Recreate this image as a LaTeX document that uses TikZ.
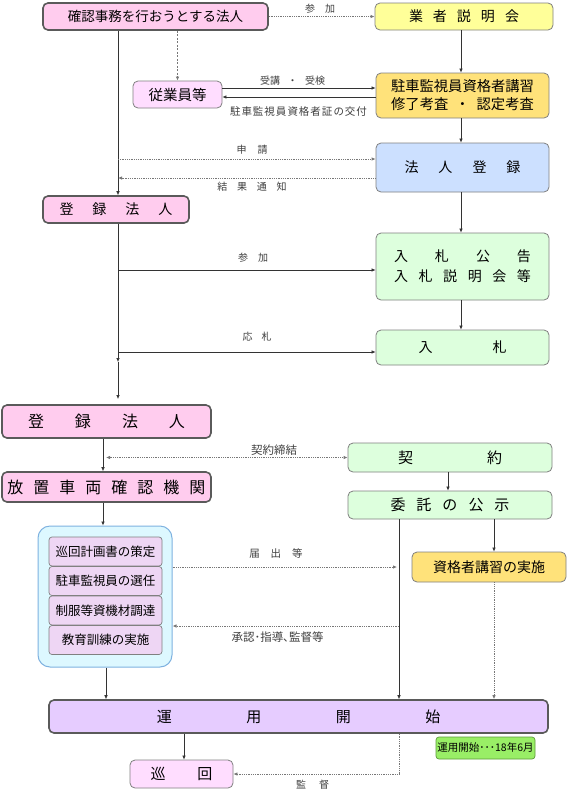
\documentclass[tikz,border=0pt]{standalone}
\usepackage{fontspec}
\setmainfont{Noto Sans CJK JP}
\usetikzlibrary{arrows.meta}
\definecolor{cpink}{HTML}{FFCCEE}
\definecolor{cdark}{HTML}{5A5A5A}
\definecolor{cyel}{HTML}{FFFF99}
\definecolor{cgold}{HTML}{FFE27A}
\definecolor{cblue}{HTML}{CCE0FF}
\definecolor{cgreen}{HTML}{DDFFDD}
\definecolor{clav}{HTML}{FFDDFF}
\definecolor{cinner}{HTML}{EED6F4}
\definecolor{ccyan}{HTML}{DDF8FF}
\definecolor{ccyanb}{HTML}{7FB2E0}
\definecolor{cpurp}{HTML}{E6CCFF}
\definecolor{clime}{HTML}{99EE66}
\definecolor{climeb}{HTML}{5C9A3A}
\definecolor{cline}{HTML}{333333}
\definecolor{cdot}{HTML}{777777}
\definecolor{clbl}{HTML}{404040}
\newcommand\fsz[2]{\fontsize{#1pt}{#2pt}\selectfont}
\ExplSyntaxOn
\NewDocumentCommand\spread{mm}{
  \bool_set_true:N \l_tmpa_bool
  \tl_map_inline:nn {#2}
    { \bool_if:NF \l_tmpa_bool { \hspace{#1pt} } \bool_set_false:N \l_tmpa_bool ##1 }
}
\ExplSyntaxOff
\tikzset{
  box/.style={rounded corners=5pt, align=center, inner sep=0pt, text=black},
  pinkbox/.style={box, fill=cpink, draw=cdark, line width=1.6pt},
  purpbox/.style={box, fill=cpurp, draw=cdark, line width=1.6pt},
  yelbox/.style={box, fill=cyel, draw=gray, line width=0.8pt},
  goldbox/.style={box, fill=cgold, draw=gray, line width=0.8pt},
  bluebox/.style={box, fill=cblue, draw=gray, line width=0.8pt},
  greenbox/.style={box, fill=cgreen, draw=gray, line width=0.8pt},
  lavbox/.style={box, fill=clav, draw=gray, line width=0.8pt},
  innerbox/.style={box, rounded corners=3pt, fill=cinner, draw=gray, line width=0.7pt},
  contbox/.style={rounded corners=12pt, fill=ccyan, draw=ccyanb, line width=1pt, inner sep=0pt},
  limebox/.style={box, rounded corners=3pt, fill=clime, draw=climeb, line width=0.7pt},
  lbl/.style={inner sep=0pt, text=clbl},
  sline/.style={draw=cline, line width=0.6pt},
  dline/.style={draw=cdot, line width=0.8pt, densely dotted},
  dashline/.style={draw=cdot, line width=0.8pt, dash pattern=on 2pt off 1.5pt},
  arr/.style={-{Latex[length=4pt,width=3.5pt]}},
  darr/.style={{Latex[length=4pt,width=3.5pt]}-{Latex[length=4pt,width=3.5pt]}},
}
\begin{document}
\begin{tikzpicture}[x=1pt,y=-1pt]
\useasboundingbox (0,0) rectangle (567,793);
\fill[white] (0,0) rectangle (567,793);
% reference coordinates
\coordinate (mx) at (118,0);
\coordinate (rx) at (461,0);
\coordinate (cx) at (103,0);
\coordinate (kx) at (448,0);
\coordinate (vx) at (399,0);
\coordinate (sx) at (494,0);
\coordinate (bx) at (106,0);
\coordinate (jx) at (184,0);
\coordinate (y88) at (0,88);
\coordinate (y97) at (0,97);
\coordinate (y159) at (0,159);
\coordinate (y178) at (0,178);
\coordinate (y270) at (0,270);
\coordinate (y352) at (0,352);
\coordinate (y567) at (0,567);
\coordinate (y626) at (0,626);
\coordinate (m1) at (118,362);
\coordinate (m2) at (118,399);

% nodes
\node[pinkbox, minimum width=225pt, minimum height=27pt, font=\fsz{13.5}{16}] (n1) at (155.5,16.5) {確認事務を行おうとする法人};
\node[yelbox, minimum width=178pt, minimum height=27pt, font=\fsz{14}{16}] (n2) at (464,16.5) {\spread{10}{業者説明会}};
\node[lavbox, minimum width=89pt, minimum height=27pt, font=\fsz{14.5}{16}] (n3) at (177.5,94.5) {従業員等};
\node[goldbox, minimum width=173pt, minimum height=45pt, font=\fsz{14.3}{18}] (n4) at (462.5,95.5) {駐車監視員資格者講習\\修了考査\hspace{7pt}・\hspace{7pt}認定考査};
\node[bluebox, minimum width=173pt, minimum height=49pt, font=\fsz{14}{16}] (n5) at (462.5,167.5) {\spread{20}{法人登録}};
\node[pinkbox, minimum width=146pt, minimum height=27pt, font=\fsz{14}{16}] (n6) at (116,209.5) {\spread{19}{登録法人}};
\node[greenbox, minimum width=173pt, minimum height=67pt, font=\fsz{14}{20}] (n7) at (462.5,266.5) {\spread{27}{入札公告}\\\spread{10.6}{入札説明会等}};
\node[greenbox, minimum width=173pt, minimum height=35pt, font=\fsz{14}{16}] (n8) at (462.5,347.5) {\spread{60}{入札}};
\node[pinkbox, minimum width=209pt, minimum height=33pt, font=\fsz{16}{18}] (n9) at (106.5,421.5) {\spread{31}{登録法人}};
\node[greenbox, minimum width=204pt, minimum height=29pt, font=\fsz{15}{17}] (n10) at (450,457.5) {\spread{74}{契約}};
\node[pinkbox, minimum width=209pt, minimum height=30pt, font=\fsz{16}{18}] (n11) at (106.5,487) {\spread{10}{放置車両確認機関}};
\node[greenbox, minimum width=204pt, minimum height=28pt, font=\fsz{15}{17}] (n12) at (450,505) {\spread{11}{委託の公示}};
\node[contbox, minimum width=134pt, minimum height=141pt] (cont) at (105,596.5) {};
\node[innerbox, minimum width=113pt, minimum height=29pt, font=\fsz{12.5}{14}] (i1) at (105.5,551.5) {巡回計画書の策定};
\node[innerbox, minimum width=113pt, minimum height=29pt, font=\fsz{12.5}{14}] (i2) at (105.5,581) {駐車監視員の選任};
\node[innerbox, minimum width=113pt, minimum height=29pt, font=\fsz{12.5}{14}] (i3) at (105.5,610.5) {制服等資機材調達};
\node[innerbox, minimum width=113pt, minimum height=29pt, font=\fsz{12.5}{14}] (i4) at (105.5,640) {教育訓練の実施};
\node[goldbox, minimum width=154pt, minimum height=30pt, font=\fsz{14}{16}] (n14) at (489,567) {資格者講習の実施};
\node[purpbox, minimum width=499pt, minimum height=33pt, font=\fsz{15}{17}] (n15) at (298.5,716.5) {\spread{74.5}{運用開始}};
\node[limebox, minimum width=99pt, minimum height=22pt, font=\fsz{10.5}{12}] (n16) at (485.5,748) {運用開始･･･18年6月};
\node[lavbox, minimum width=103pt, minimum height=28pt, font=\fsz{15}{17}] (n17) at (181.5,774) {\spread{32}{巡回}};

% labels
\node[lbl, font=\fsz{10}{12}] (l1) at (320,9) {\spread{10}{参加}};
\node[lbl, font=\fsz{10}{12}] (l2) at (292.5,81) {受講\hspace{7.5pt}・\hspace{7.5pt}受検};
\node[lbl, font=\fsz{10.5}{12}] (l3) at (298.5,112) {\spread{1}{駐車監視員資格者証の交付}};
\node[lbl, font=\fsz{10}{12}] (l4) at (252,150) {\spread{11}{申請}};
\node[lbl, font=\fsz{10}{12}] (l5) at (252,187) {\spread{9.7}{結果通知}};
\node[lbl, font=\fsz{10}{12}] (l6) at (253,258) {\spread{10}{参加}};
\node[lbl, font=\fsz{10}{12}] (l7) at (257,337) {\spread{9}{応札}};
\node[lbl, font=\fsz{11.5}{13}] (l8) at (274,450) {契約締結};
\node[lbl, font=\fsz{10.5}{12}] (l9) at (276,553) {\spread{11}{届出等}};
\node[lbl, font=\fsz{11.5}{13}] (l10) at (277.5,637) {承認･指導､監督等};
\node[lbl, font=\fsz{10}{12}] (l11) at (312.5,785) {\spread{13}{監督}};

% connectors
\draw[dline,arr] (n1) -- (n2);
\draw[dashline,arr] (n1.south -| n3) -- (n3.north);
\draw[sline,arr] (n1.south -| mx) -- (n6.north -| mx);
\draw[sline,arr] (n3.east |- y88) -- (n4.west |- y88);
\draw[sline,arr] (n4.west |- y97) -- (n3.east |- y97);
\draw[sline,arr] (n2.south -| rx) -- (n4.north -| rx);
\draw[sline,arr] (n4.south -| rx) -- (n5.north -| rx);
\draw[sline,arr] (n5.south -| rx) -- (n7.north -| rx);
\draw[sline,arr] (n7.south -| rx) -- (n8.north -| rx);
\draw[dline,arr] (mx |- y159) -- (n5.west |- y159);
\draw[dline,arr] (n5.west |- y178) -- (mx |- y178);
\draw[sline,arr] (mx |- y270) -- (n7.west |- y270);
\draw[sline,arr] (mx |- y352) -- (n8.west |- y352);
\draw[sline,arr] (n6.south -| mx) -- (m1);
\draw[sline,arr] (m1) -- (m2);
\draw[sline,arr] (n9.south -| cx) -- (n11.north -| cx);
\draw[dline,darr,shorten <=3pt] (cx |- n10.west) -- (n10.west);
\draw[sline,arr] (n10.south -| kx) -- (n12.north -| kx);
\draw[sline,arr] (n12.south -| vx) -- (n15.north -| vx);
\draw[sline,arr] (n12.south -| sx) -- (n14.north -| sx);
\draw[dline,arr] (n14.south -| sx) -- (n15.north -| sx);
\draw[sline,arr] (n11.south -| cx) -- (cont.north -| cx);
\draw[sline,arr] (cont.south -| bx) -- (n15.north -| bx);
\draw[dline,arr,shorten >=2pt] (cont.east |- y567) -- (vx |- y567);
\draw[dline,arr] (vx |- y626) -- (cont.east |- y626);
\draw[sline,arr] (n15.south -| jx) -- (n17.north -| jx);
\draw[dline,arr] (n15.south -| vx) |- (n17.east);
\end{tikzpicture}
\end{document}
